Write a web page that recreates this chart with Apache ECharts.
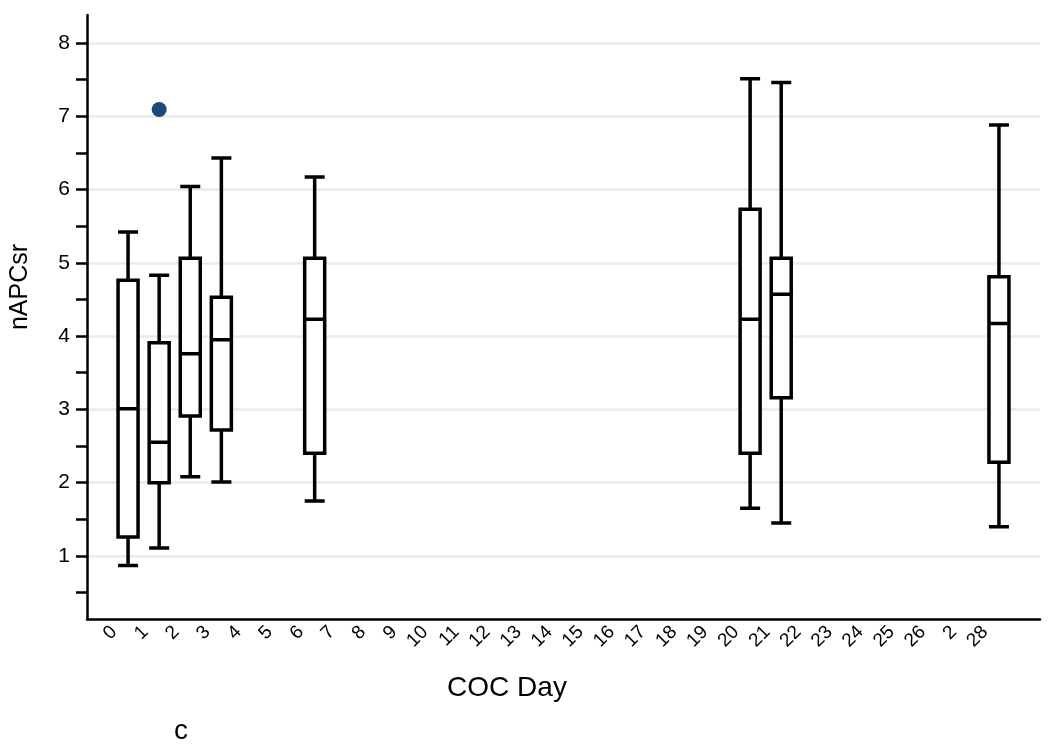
<!DOCTYPE html>
<html>
<head>
<meta charset="utf-8">
<title>nAPCsr by COC Day</title>
<script src="https://cdn.jsdelivr.net/npm/echarts@6/dist/echarts.min.js"></script>
<style>
  html, body { margin: 0; padding: 0; background: #fff; }
  #chart { width: 1050px; height: 749px; }
</style>
</head>
<body>
<div id="chart"></div>
<script>
  // x tick labels as printed (27 is printed as "2")
  const dayLabels = ['0', '1', '2', '3', '4', '5', '6', '7', '8', '9', '10', '11', '12', '13', '14',
    '15', '16', '17', '18', '19', '20', '21', '22', '23', '24', '25', '26', '2', '28'];
  const yTickLabels = [1, 2, 3, 4, 5, 6, 7, 8];

  // box plot values, one entry per day that has a box
  const boxDays = [0, 1, 2, 3, 6, 20, 21, 28];
  const lowWhisker = [0.87, 1.11, 2.08, 2.01, 1.75, 1.65, 1.45, 1.40];
  const q1 = [1.26, 2.00, 2.91, 2.72, 2.40, 2.40, 3.16, 2.28];
  const median = [3.01, 2.55, 3.76, 3.95, 4.23, 4.23, 4.57, 4.17];
  const q3 = [4.76, 3.91, 5.06, 4.53, 5.06, 5.73, 5.06, 4.81];
  const highWhisker = [5.42, 4.83, 6.04, 6.43, 6.17, 7.51, 7.46, 6.88];

  // outside values
  const outlierDays = [1];
  const outlierValues = [7.09];

  const font = "'Liberation Sans', Arial, Helvetica, sans-serif";

  let boxData = boxDays.map((d, i) => [d, lowWhisker[i], q1[i], median[i], q3[i], highWhisker[i]]);
  let outlierData = outlierDays.map((d, i) => [d, outlierValues[i]]);

  // minor ticks every half unit, labels on whole units
  let yTicks = [];
  for (let v = 0.5; v <= 8; v += 0.5) yTicks.push(v);

  let option = {
    animation: false,
    backgroundColor: '#fff',
    textStyle: { fontFamily: font },
    grid: { left: 87, right: 10, top: 15, bottom: 130, containLabel: false, outerBoundsMode: 'none' },
    xAxis: {
      type: 'value',
      min: -1.32,
      max: 29.32,
      name: 'COC Day',
      nameLocation: 'middle',
      nameGap: 55,
      nameTextStyle: { fontSize: 28, color: '#000', fontFamily: font, padding: [0, 113, 0, 0] },
      axisLine: { show: true, onZero: false, lineStyle: { color: '#000', width: 2.5 } },
      axisTick: { show: false },
      splitLine: { show: false },
      axisLabel: {
        customValues: dayLabels.map((_, i) => i - 0.45),
        formatter: v => dayLabels[Math.round(v + 0.45)],
        rotate: 45,
        margin: 10,
        fontSize: 19,
        color: '#000',
        fontFamily: font
      }
    },
    yAxis: [{
      type: 'value',
      min: 0.14,
      max: 8.38,
      name: 'nAPCsr',
      nameLocation: 'middle',
      nameGap: 54,
      nameTextStyle: { fontSize: 25, color: '#000', fontFamily: font, padding: [0, 0, 0, 60] },
      axisLine: { show: true, onZero: false, lineStyle: { color: '#000', width: 2.5 } },
      axisTick: { show: true, customValues: yTicks, length: 11, lineStyle: { color: '#000', width: 2.5 } },
      axisLabel: { customValues: yTickLabels, margin: 17, fontSize: 21, color: '#000', fontFamily: font },
      splitLine: { show: false }
    }, {
      // only draws the light grid lines on whole units
      type: 'value',
      min: 0.14,
      max: 8.38,
      position: 'left',
      minInterval: 1,
      maxInterval: 1,
      splitNumber: 8,
      axisLine: { show: false },
      axisTick: { show: false },
      axisLabel: { show: false },
      splitLine: {
        show: true,
        showMinLine: false,
        showMaxLine: false,
        lineStyle: { color: '#e4ecec', width: 2.5 }
      }
    }],
    graphic: [{
      type: 'text',
      left: 174,
      top: 717,
      style: { text: 'c', fontSize: 28, fill: '#000', fontFamily: font }
    }],
    series: [{
      type: 'boxplot',
      data: boxData,
      boxWidth: [20, 20],
      itemStyle: { color: '#fff', borderColor: '#000', borderWidth: 3.5 },
      z: 3
    }, {
      type: 'scatter',
      data: outlierData,
      symbol: 'circle',
      symbolSize: 15,
      itemStyle: { color: '#1d4a79', opacity: 1 },
      z: 4
    }]
  };

  let myChart = echarts.init(document.getElementById('chart'));
  myChart.setOption(option);
</script>
</body>
</html>
